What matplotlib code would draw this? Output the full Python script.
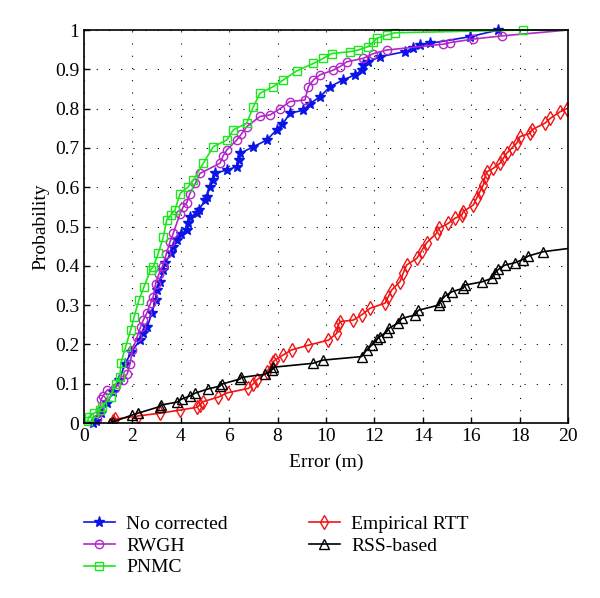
import matplotlib
matplotlib.use('Agg')
import matplotlib.pyplot as plt

plt.rcParams['font.family'] = 'Liberation Serif'
plt.rcParams['font.size'] = 14

# No corrected
nc_x = [0.39, 0.48, 0.70, 0.95, 1.2, 1.45, 1.7, 1.95, 2.31, 2.45, 2.62, 2.8, 2.96, 3.0, 3.15, 3.28,
        3.35, 3.58, 3.69, 3.83, 4.0, 4.24, 4.3, 4.4, 4.66, 4.75, 5.0, 5.07, 5.2, 5.34, 5.4, 5.9,
        6.31, 6.4, 6.45, 7.0, 7.55, 7.96, 8.2, 8.51, 9.06, 9.34, 9.75, 10.17, 10.71, 11.2, 11.47,
        11.54, 11.75, 12.23, 13.26, 13.6, 13.88, 14.3, 15.95, 17.12, 20.0]
nc_y = [0.0, 0.005, 0.025, 0.05, 0.08, 0.11, 0.15, 0.18, 0.211, 0.23, 0.245, 0.28, 0.313, 0.338, 0.36, 0.389,
        0.406, 0.432, 0.449, 0.466, 0.48, 0.491, 0.51, 0.525, 0.534, 0.542, 0.567, 0.576, 0.60, 0.618, 0.635, 0.644,
        0.652, 0.67, 0.686, 0.703, 0.72, 0.746, 0.76, 0.788, 0.796, 0.813, 0.83, 0.856, 0.873, 0.886, 0.898,
        0.911, 0.919, 0.932, 0.945, 0.953, 0.962, 0.966, 0.983, 1.0, 1.0]

# RWGH
rw_x = [0.55, 0.66, 0.7, 0.8, 0.96, 1.3, 1.6, 1.79, 1.9, 2.0, 2.2, 2.34, 2.45, 2.6, 2.75, 2.86, 2.96,
        3.1, 3.25, 3.4, 3.55, 3.69, 3.97, 4.1, 4.24, 4.38, 4.6, 4.79, 5.62, 5.75, 5.9, 6.31, 6.5, 6.72,
        7.27, 7.69, 8.1, 8.51, 9.13, 9.27, 9.48, 9.75, 10.3, 10.58, 10.85, 11.54, 11.96, 12.5, 14.85,
        15.12, 16.09, 17.26, 20.0]
rw_y = [0.01, 0.03, 0.06, 0.07, 0.084, 0.09, 0.11, 0.126, 0.15, 0.186, 0.22, 0.245, 0.262, 0.28, 0.305, 0.321, 0.355,
        0.38, 0.40, 0.43, 0.46, 0.483, 0.533, 0.55, 0.56, 0.584, 0.61, 0.635, 0.661, 0.68, 0.695, 0.72, 0.735, 0.754,
        0.78, 0.784, 0.80, 0.818, 0.822, 0.856, 0.873, 0.886, 0.898, 0.907, 0.919, 0.928, 0.94, 0.949, 0.964,
        0.968, 0.977, 0.985, 1.0]

# PNMC
pn_x = [0.15, 0.21, 0.41, 0.66, 0.74, 1.1, 1.31, 1.49, 1.52, 1.72, 1.93, 2.07, 2.27, 2.48, 2.75, 2.86,
        3.07, 3.28, 3.42, 3.6, 3.76, 3.97, 4.31, 4.52, 4.93, 5.34, 5.9, 6.17, 6.72, 7.0, 7.27, 7.82,
        8.24, 8.79, 9.48, 9.89, 10.23, 11.0, 11.33, 11.75, 11.96, 12.1, 12.5, 12.85, 18.16, 20.0]
pn_y = [0.005, 0.016, 0.025, 0.033, 0.041, 0.067, 0.10, 0.118, 0.152, 0.194, 0.237, 0.27, 0.313, 0.347, 0.389, 0.398,
        0.432, 0.474, 0.517, 0.53, 0.542, 0.584, 0.601, 0.618, 0.661, 0.703, 0.72, 0.746, 0.763, 0.805, 0.839, 0.856,
        0.873, 0.896, 0.915, 0.928, 0.94, 0.945, 0.949, 0.958, 0.97, 0.979, 0.987, 0.993, 1.0, 1.0]

# Empirical RTT
rtt_x = [1.21, 1.3, 2.23, 3.14, 3.97, 4.66, 4.79, 4.9, 5.55, 5.93, 6.79, 7.0, 7.13, 7.55, 7.82, 7.89,
         8.22, 8.58, 9.27, 10.1, 10.44, 10.51, 10.58, 11.13, 11.47, 11.82, 12.44, 12.57, 12.71, 13.06,
         13.2, 13.33, 13.75, 13.95, 14.16, 14.57, 14.65, 15.05, 15.33, 15.61, 15.67, 16.09, 16.22, 16.36,
         16.5, 16.57, 16.64, 16.91, 17.19, 17.33, 17.46, 17.67, 17.88, 18.02, 18.43, 18.5, 19.05, 19.26,
         19.67, 19.95]
rtt_y = [0.006, 0.01, 0.018, 0.025, 0.033, 0.04, 0.046, 0.054, 0.066, 0.077, 0.088, 0.10, 0.109, 0.13, 0.156, 0.16,
         0.173, 0.186, 0.198, 0.211, 0.228, 0.249, 0.258, 0.262, 0.275, 0.292, 0.305, 0.321, 0.338, 0.36,
         0.383, 0.402, 0.419, 0.438, 0.459, 0.483, 0.495, 0.508, 0.521, 0.529, 0.538, 0.555, 0.572, 0.589,
         0.606, 0.627, 0.639, 0.648, 0.661, 0.674, 0.686, 0.699, 0.712, 0.729, 0.737, 0.746, 0.763, 0.775,
         0.792, 0.80]

# RSS-based
rss_x = [1.07, 1.2, 1.97, 2.23, 3.14, 3.2, 3.83, 4.04, 4.38, 4.59, 5.14, 5.62, 5.69, 6.45, 6.5, 7.48,
         7.75, 7.82, 9.47, 9.86, 11.47, 11.68, 11.89, 12.1, 12.23, 12.5, 12.6, 12.99, 13.13, 13.68, 13.82,
         14.65, 14.71, 14.92, 15.2, 15.67, 15.74, 16.43, 16.85, 16.98, 17.12, 17.4, 17.81, 18.13, 18.36,
         18.98, 20.0]
rss_y = [0.0, 0.003, 0.02, 0.025, 0.042, 0.046, 0.053, 0.061, 0.069, 0.076, 0.087, 0.094, 0.099, 0.112, 0.116, 0.124,
         0.134, 0.142, 0.152, 0.160, 0.169, 0.186, 0.198, 0.213, 0.22, 0.232, 0.241, 0.255, 0.266, 0.275, 0.287,
         0.30, 0.309, 0.323, 0.334, 0.343, 0.351, 0.359, 0.368, 0.381, 0.391, 0.402, 0.408, 0.416, 0.425,
         0.436, 0.444]

fig = plt.figure(figsize=(6.0, 5.98), dpi=100)
ax = fig.add_axes([0.14, 0.2926, 0.8067, 0.6572])

ax.plot(nc_x, nc_y, color='#0a14e6', lw=1.2, marker='*', ms=8, mfc='#0a14e6', mec='#0a14e6',
        markevery=slice(0, -1), label='No corrected', clip_on=False)
ax.plot(rw_x, rw_y, color='#b426c8', lw=1.2, marker='o', ms=6, mfc='none', mec='#b426c8', mew=1,
        markevery=slice(0, -1), label='RWGH', clip_on=False)
ax.plot(pn_x, pn_y, color='#1ee61e', lw=1.2, marker='s', ms=6, mfc='none', mec='#1ee61e', mew=1,
        markevery=slice(0, -1), label='PNMC', clip_on=False)
ax.plot(rtt_x, rtt_y, color='#f01414', lw=1.2, marker='d', ms=7.5, mfc='none', mec='#f01414', mew=1,
        label='Empirical RTT')
ax.plot(rss_x, rss_y, color='black', lw=1.2, marker='^', ms=7, mfc='none', mec='black', mew=1,
        markevery=slice(0, -1), label='RSS-based')

ax.set_xlim(0, 20)
ax.set_ylim(0, 1)
ax.set_xticks(range(0, 21, 2))
ax.set_yticks([i / 10 for i in range(11)])
ax.set_yticklabels(['0', '0.1', '0.2', '0.3', '0.4', '0.5', '0.6', '0.7', '0.8', '0.9', '1'])
ax.tick_params(direction='in', length=4, width=1)
ax.grid(True, color='black', lw=0.8, linestyle=(0, (1, 10)))
for s in ax.spines.values():
    s.set_linewidth(1.2)
ax.set_xlabel('Error (m)', labelpad=6)
ax.set_ylabel('Probability')

fig.legend(loc='upper left', bbox_to_anchor=(0.11, 0.168), ncol=2, frameon=False,
           handlelength=1.6, handletextpad=0.6, columnspacing=4.15, labelspacing=0.22, fontsize=14)

fig.savefig('out.png', dpi=100)
